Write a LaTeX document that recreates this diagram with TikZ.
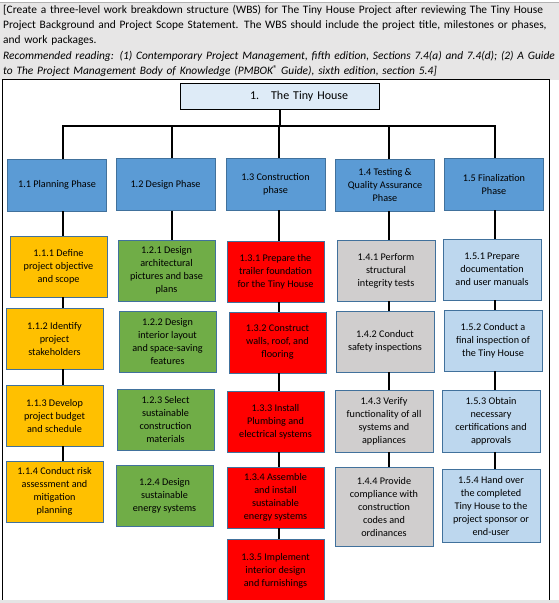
\documentclass[tikz,border=0pt]{standalone}
\usepackage{fontspec}
\setmainfont{Carlito}
\usepackage{xcolor}
\usepackage{tikz}
\usetikzlibrary{positioning,calc}
\definecolor{wbsedge}{HTML}{41719C}
\definecolor{wbsphase}{HTML}{5B9BD5}
\definecolor{wbsroot}{HTML}{DEEBF7}
\definecolor{wbsplan}{HTML}{FFC000}
\definecolor{wbsdesign}{HTML}{70AD47}
\definecolor{wbsbuild}{HTML}{FF0000}
\definecolor{wbstest}{HTML}{D0CECE}
\definecolor{wbsfinal}{HTML}{BDD7EE}
\definecolor{wbshead}{HTML}{E7E6E6}

\begin{document}
\begin{tikzpicture}[x=1pt,y=-1pt,
  phase/.style={draw=wbsedge,fill=wbsphase,minimum width=99pt,minimum height=52pt,inner sep=1pt,align=center,font=\fontsize{10.2}{13}\selectfont},
  pack/.style={draw=wbsedge,fill=#1,minimum width=97pt,minimum height=61pt,inner sep=1pt,align=center,font=\fontsize{10.2}{13}\selectfont},
  link/.style={line width=2pt}]
\useasboundingbox (0,0) rectangle (559,603);
% header with the task text
\fill[wbshead] (0,2.5) rectangle (559,79.5);
\draw[black!30] (0,2.5) -- (559,2.5);
\node[anchor=north west,inner sep=0pt,text width=549pt,font=\fontsize{11.4}{15.2}\selectfont](brief) at (3,5){%
\makebox[\linewidth][s]{[Create a three-level work breakdown structure (WBS) for The Tiny House Project after reviewing The Tiny House}\\
\makebox[\linewidth][s]{Project Background and Project Scope Statement. The WBS should include the project title, milestones or phases,}\\
and work packages.\\
\itshape\makebox[\linewidth][s]{Recommended reading: (1) Contemporary Project Management, fifth edition, Sections 7.4(a) and 7.4(d); (2) A Guide}\\
to The Project Management Body of Knowledge (PMBOK\raisebox{2.5pt}{\fontsize{8.5}{8.5}\selectfont\upshape ®} Guide), sixth edition, section 5.4]};
\draw[line width=1pt] (2,79.5) rectangle (549,601);
% level 1 and 2
\node[draw,fill=wbsroot,minimum width=199pt,minimum height=26pt,text width=190pt,inner xsep=4.5pt,align=left,font=\fontsize{12}{14}\selectfont](root) at (279.5,96){\hspace*{65.5pt}1.\hspace{12pt}The Tiny House};
\node[phase](p1) at (57,185){1.1 Planning Phase};
\node[phase](p2) at (165.5,184.5){1.2 Design Phase};
\node[phase](p3) at (275.5,184){1.3 Construction\\phase};
\node[phase](p4) at (385,185){1.4 Testing \&\\Quality Assurance\\Phase};
\node[phase](p5) at (494,184){1.5 Finalization\\Phase};
% work packages
\node[pack=wbsplan](t111) at (58.5,266.5){1.1.1 Define\\project objective\\and scope};
\node[pack=wbsplan](t112) at (54.5,338.5){1.1.2 Identify\\project\\stakeholders};
\node[pack=wbsplan](t113) at (54.5,415.5){1.1.3 Develop\\project budget\\and schedule};
\node[pack=wbsplan](t114) at (54.5,491.5){1.1.4 Conduct risk\\assessment and\\mitigation\\planning};
\node[pack=wbsdesign](t121) at (166.5,270.5){1.2.1 Design\\architectural\\pictures and base\\plans};
\node[pack=wbsdesign](t122) at (167.5,341.5){1.2.2 Design\\interior layout\\and space-saving\\features};
\node[pack=wbsdesign](t123) at (165.5,419.5){1.2.3 Select\\sustainable\\construction\\materials};
\node[pack=wbsdesign](t124) at (164.5,495.5){1.2.4 Design\\sustainable\\energy systems};
\node[pack=wbsbuild](t131) at (275.5,271.5){1.3.1 Prepare the\\trailer foundation\\for the Tiny House};
\node[pack=wbsbuild](t132) at (277.5,342.5){1.3.2 Construct\\walls, roof, and\\flooring};
\node[pack=wbsbuild](t133) at (275.5,421.5){1.3.3 Install\\Plumbing and\\electrical systems};
\node[pack=wbsbuild](t134) at (275.5,497.5){1.3.4 Assemble\\and install\\sustainable\\energy systems};
\node[pack=wbsbuild,minimum height=63pt](t135) at (275.5,570.5){1.3.5 Implement\\interior design\\and furnishings};
\node[pack=wbstest,minimum width=98pt](t141) at (386,270.5){1.4.1 Perform\\structural\\integrity tests};
\node[pack=wbstest,minimum width=98pt](t142) at (385,341.5){1.4.2 Conduct\\safety inspections};
\node[pack=wbstest,minimum width=98pt,minimum height=62pt](t143) at (384,421){1.4.3 Verify\\functionality of all\\systems and\\appliances};
\node[pack=wbstest,minimum width=98pt,minimum height=79pt](t144) at (384,506.5){1.4.4 Provide\\compliance with\\construction\\codes and\\ordinances};
\node[pack=wbsfinal,minimum width=98pt](t151) at (492,269.5){1.5.1 Prepare\\documentation\\and user manuals};
\node[pack=wbsfinal,minimum width=98pt](t152) at (493,340.5){1.5.2 Conduct a\\final inspection of\\the Tiny House};
\node[pack=wbsfinal,minimum width=98pt,minimum height=62pt](t153) at (491,421){1.5.3 Obtain\\necessary\\certifications and\\approvals};
\node[pack=wbsfinal,minimum width=98pt,minimum height=73pt](t154) at (491,505.5){1.5.4 Hand over\\the completed\\Tiny House to the\\project sponsor or\\end-user};
% connectors
\coordinate (bus) at (0,126);
\coordinate (c1) at (63,0);
\coordinate (c2) at (172,0);
\coordinate (c3) at (279,0);
\coordinate (c4) at (388.5,0);
\coordinate (c5) at (494.5,0);
\draw[link] (root.south) -- (root.south |- bus);
\draw[link] (p1.north -| c1) -- (bus -| c1) -- (bus -| c5) -- (p5.north -| c5);
\draw[link] (bus -| c2) -- (p2.north -| c2);
\draw[link] (bus -| c3) -- (p3.north -| c3);
\draw[link] (bus -| c4) -- (p4.north -| c4);
\draw[link] (p1.south -| c1) -- (t111.north -| c1) (t111.south -| c1) -- (t112.north -| c1)
  (t112.south -| c1) -- (t113.north -| c1) (t113.south -| c1) -- (t114.north -| c1);
\draw[link] (p2.south -| c2) -- (t121.north -| c2);
\draw[link] (p3.south -| c3) -- (t131.north -| c3) (t131.south -| c3) -- (t132.north -| c3)
  (t132.south -| c3) -- (t133.north -| c3) (t133.south -| c3) -- (t134.north -| c3)
  (t134.south -| c3) -- (t135.north -| c3);
\draw[link] (p4.south -| c4) -- (t141.north -| c4) (t141.south -| c4) -- (t142.north -| c4)
  (t142.south -| c4) -- (t143.north -| c4) (t143.south -| c4) -- (t144.north -| c4);
\draw[link] (p5.south -| c5) -- (t151.north -| c5) (t151.south -| c5) -- (t152.north -| c5)
  (t152.south -| c5) -- (t153.north -| c5) (t153.south -| c5) -- (t154.north -| c5);
\fill[black!10] (0,600) rectangle (559,603);
\end{tikzpicture}
\end{document}
